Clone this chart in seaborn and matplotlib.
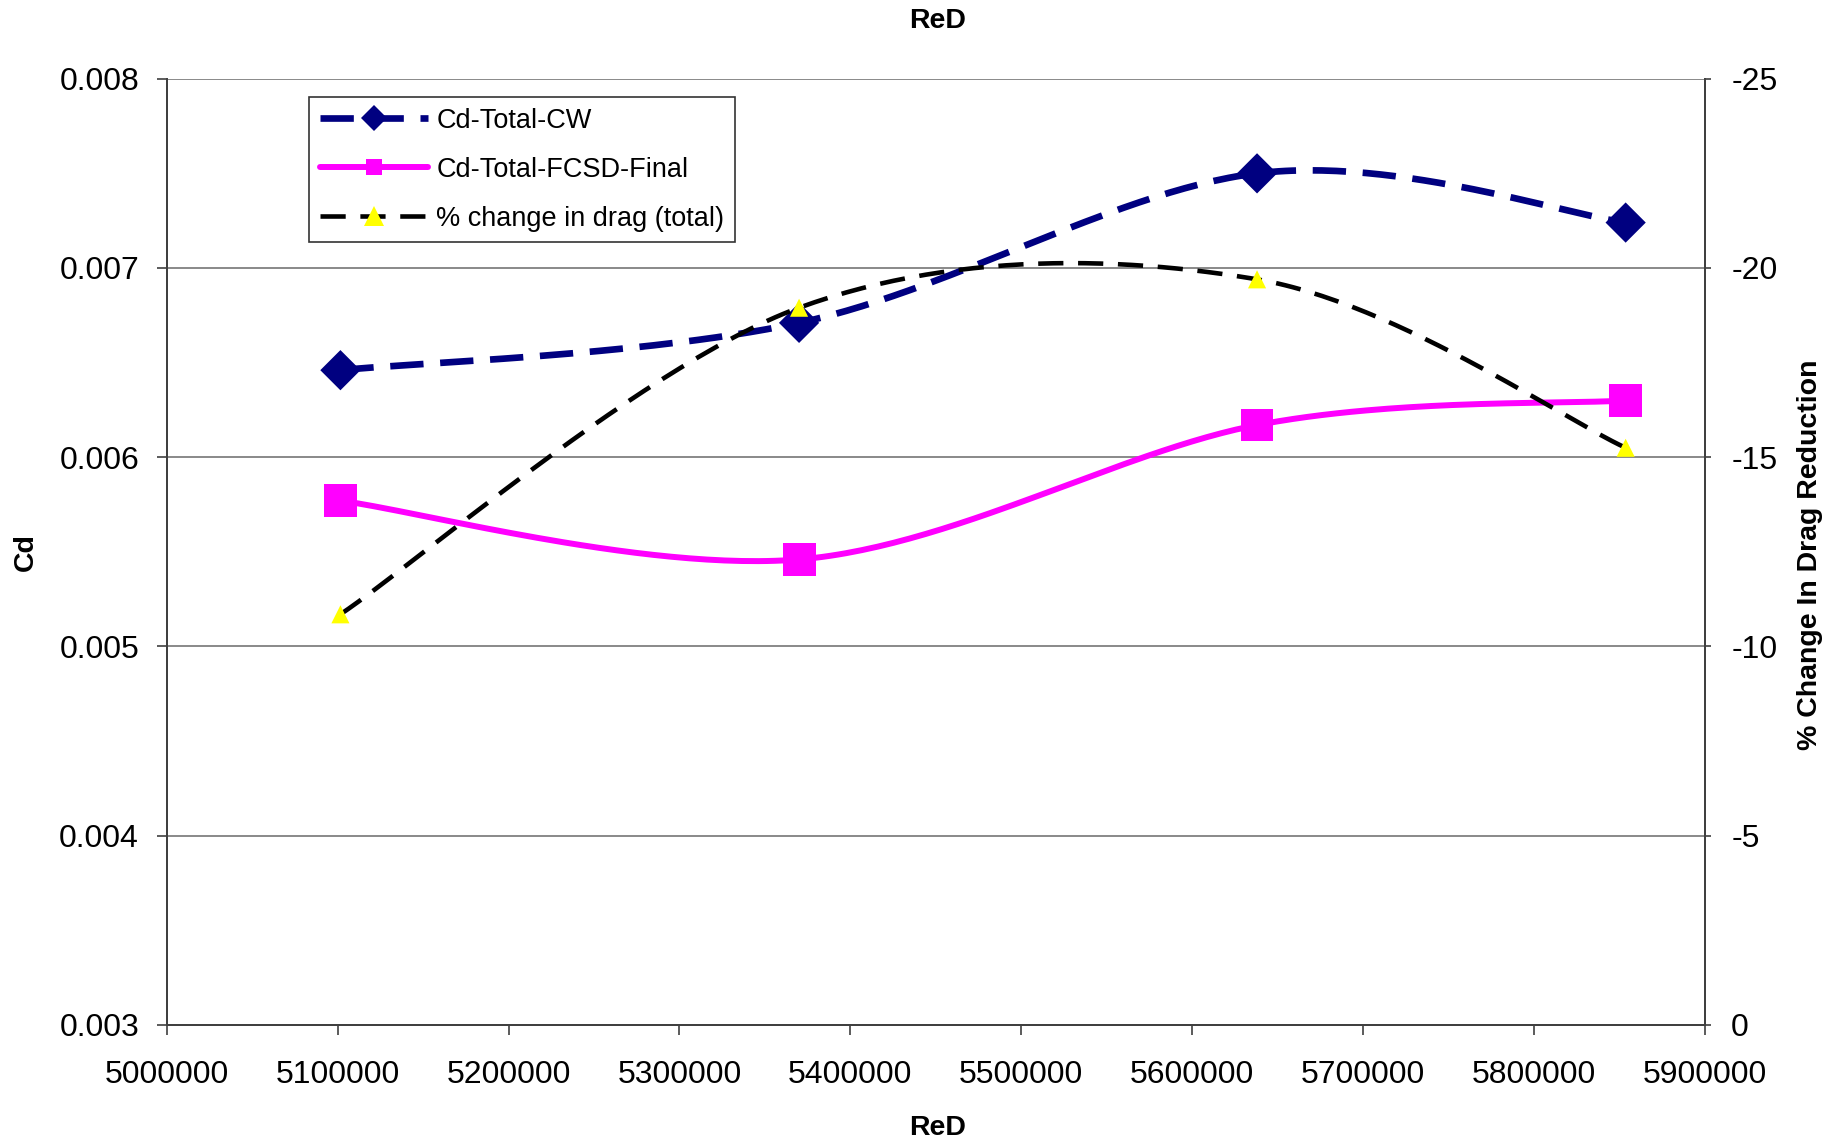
import numpy as np
import pandas as pd
import matplotlib

matplotlib.use("Agg")
import matplotlib.pyplot as plt
import seaborn as sns
from matplotlib.lines import Line2D

# data
red = [5101600, 5370000, 5638000, 5853700]
cd_total_cw = [0.00646, 0.00671, 0.00750, 0.00724]
cd_total_fcsd = [0.00577, 0.00546, 0.00617, 0.00630]
pct_change = [-10.85, -18.95, -19.7, -15.25]

left_ticks = [0.003, 0.004, 0.005, 0.006, 0.007, 0.008]
right_ticks = [0, -5, -10, -15, -20, -25]
x_ticks = [5000000, 5100000, 5200000, 5300000, 5400000, 5500000, 5600000, 5700000, 5800000, 5900000]


def smooth(xs, ys, n=60):
    # Excel-like smoothed line: Catmull-Rom through the points
    p = np.column_stack([xs, ys]).astype(float)
    p = np.vstack([p[0], p, p[-1]])
    out = []
    t = np.linspace(0, 1, n)[:, None]
    for i in range(1, len(p) - 2):
        p0, p1, p2, p3 = p[i - 1], p[i], p[i + 1], p[i + 2]
        c1 = p1 + (p2 - p0) / 6
        c2 = p2 - (p3 - p1) / 6
        seg = ((1 - t) ** 3) * p1 + 3 * ((1 - t) ** 2) * t * c1 + 3 * (1 - t) * t ** 2 * c2 + t ** 3 * p2
        out.append(seg if i == 1 else seg[1:])
    out = np.vstack(out)
    return pd.DataFrame({"x": out[:, 0], "y": out[:, 1]})


sns.set_theme(style="white")
plt.rcParams["font.family"] = ["Liberation Sans", "DejaVu Sans"]
plt.rcParams["text.color"] = "black"
plt.rcParams["xtick.color"] = "black"
plt.rcParams["ytick.color"] = "black"
plt.rcParams["axes.labelcolor"] = "black"

NAVY = "#000080"
MAGENTA = "#FF00FF"

fig = plt.figure(figsize=(18.41, 11.46), dpi=100)
ax = fig.add_axes([0.0906, 0.1056, 0.8354, 0.8257])
ax2 = ax.twinx()

# primary axis: Cd curves
cw = smooth(red, cd_total_cw)
fc = smooth(red, cd_total_fcsd)
sns.lineplot(data=cw, x="x", y="y", sort=False, estimator=None, ax=ax, color=NAVY,
             linewidth=4.8, zorder=3)
ax.lines[-1].set_dashes((5.0, 2.5))
sns.lineplot(data=fc, x="x", y="y", sort=False, estimator=None, ax=ax, color=MAGENTA,
             linewidth=4.3, zorder=3)
sns.scatterplot(x=red, y=cd_total_cw, ax=ax, marker="D", s=420, color=NAVY, edgecolor="none", zorder=4)
sns.scatterplot(x=red, y=cd_total_fcsd, ax=ax, marker="s", s=560, color=MAGENTA, edgecolor="none", zorder=4)

# secondary axis: % change
pc = smooth(red, pct_change)
sns.lineplot(data=pc, x="x", y="y", sort=False, estimator=None, ax=ax2, color="black",
             linewidth=3.3, zorder=3)
ax2.lines[-1].set_dashes((5.5, 3.2))
sns.scatterplot(x=red, y=pct_change, ax=ax2, marker="^", s=170, color="#FFFF00", edgecolor="none", zorder=4)

ax.set_xlim(5000000, 5900000)
ax.set_ylim(0.003, 0.008)
ax2.set_ylim(0, -25)
ax.set_xticks(x_ticks)
ax.set_xticklabels([str(v) for v in x_ticks])
ax.set_yticks(left_ticks)
ax.set_yticklabels([f"{v:.3f}" for v in left_ticks])
ax2.set_yticks(right_ticks)
ax2.set_yticklabels([str(v) for v in right_ticks])

ax.grid(True, axis="y", color="#808080", linewidth=1.3)
ax.grid(False, axis="x")
ax2.grid(False)
for a in (ax, ax2):
    for side in ("left", "right", "bottom"):
        a.spines[side].set_color("#404040")
        a.spines[side].set_linewidth(1.4)
    a.spines["top"].set_visible(False)

ax.tick_params(axis="x", direction="out", length=7, width=1.2, color="#404040", labelcolor="black",
               pad=18, labelsize=23, bottom=True)
ax.tick_params(axis="y", direction="out", length=7, width=1.2, color="#404040", labelcolor="black",
               pad=13, labelsize=23, left=True)
ax2.tick_params(axis="y", direction="out", length=4, width=1.2, color="#404040", labelcolor="black",
                pad=15, labelsize=23, right=True)

ax.set_xlabel("")
ax.set_ylabel("")
ax2.set_ylabel("")
fig.text(0.509, 0.016, "ReD", ha="center", va="center", fontsize=20.5, fontweight="bold")
fig.text(0.509, 0.982, "ReD", ha="center", va="center", fontsize=20.5, fontweight="bold")
fig.text(0.014, 0.518, "Cd", ha="center", va="center", rotation=90, fontsize=20.5, fontweight="bold")
fig.text(0.983, 0.516, "% Change In Drag Reduction", ha="center", va="center", rotation=90,
         fontsize=20.5, fontweight="bold")

handles = [
    Line2D([], [], color=NAVY, linewidth=4.8, dashes=(5.0, 2.5), marker="D", markersize=13,
           markeredgewidth=0),
    Line2D([], [], color=MAGENTA, linewidth=4.3, marker="s", markersize=12, markeredgewidth=0),
    Line2D([], [], color="black", linewidth=3.3, dashes=(5.5, 3.2), marker="^", markersize=14,
           markerfacecolor="#FFFF00", markeredgewidth=0),
]
labels = ["Cd-Total-CW", "Cd-Total-FCSD-Final", "% change in drag (total)"]
leg = ax2.legend(handles, labels, loc="upper left", bbox_to_anchor=(0.0925, 0.981), fontsize=19.5,
                 frameon=True, fancybox=False, handlelength=4.0, handletextpad=0.3,
                 labelspacing=0.85, borderpad=0.4, borderaxespad=0)
leg.get_frame().set_edgecolor("black")
leg.get_frame().set_linewidth(1.2)
for txt in leg.get_texts():
    txt.set_color("black")

fig.savefig("out.png", dpi=100)
